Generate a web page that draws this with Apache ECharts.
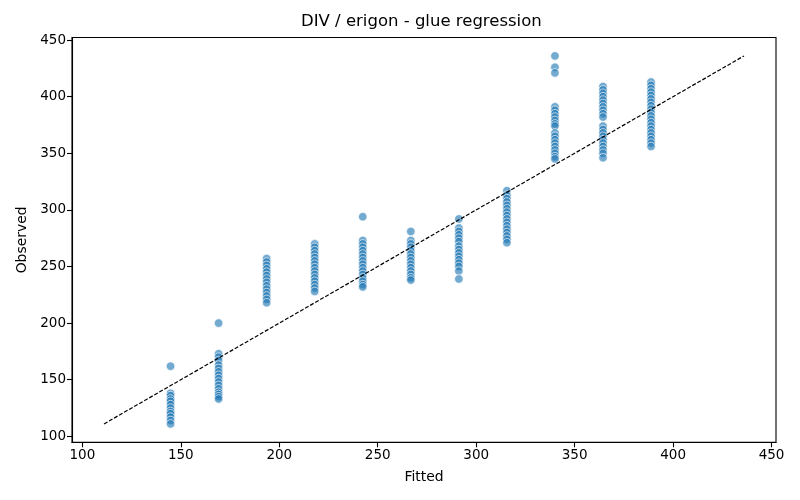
<!DOCTYPE html>
<html>
<head>
<meta charset="utf-8">
<script src="https://cdn.jsdelivr.net/npm/echarts@6/dist/echarts.min.js"></script>
<style>
html, body { margin: 0; padding: 0; background: #fff; }
#chart { width: 800px; height: 500px; }
</style>
</head>
<body>
<div id="chart"></div>
<script>
// fitted level of each column of points
var fittedLevels = [144.8, 169.2, 193.6, 218.0, 242.4, 266.8, 291.2, 315.6, 340.0, 364.4, 388.8];

var obs145 = [162, 138, 136, 133, 131, 128, 125, 122, 120, 117, 114, 111];
var obs169 = [200, 173, 170, 167, 163, 160, 157, 154, 151, 148, 145, 142, 139, 137, 135, 133];
var obs194 = [257, 254, 251, 248, 245, 242, 239, 236, 233, 230, 227, 224, 221, 218];
var obs218 = [270, 267, 264, 261, 258, 255, 252, 249, 246, 243, 240, 237, 234, 231, 228];
var obs242 = [294, 273, 270, 267, 264, 261, 258, 255, 252, 249, 246, 243, 240, 237, 234, 232];
var obs267 = [281, 273, 270, 267, 264, 261, 258, 255, 252, 249, 246, 243, 240, 238];
var obs291 = [292, 284, 281, 278, 275, 272, 268, 265, 262, 259, 256, 253, 250, 246, 239];
var obs315 = [317, 313, 310, 307, 304, 301, 298, 295, 292, 289, 286, 283, 280, 277, 274, 271];
var obs340 = [436, 426, 421, 391, 388, 385, 382, 379, 376, 374, 368, 365, 362, 359, 356, 353, 350, 347, 345];
var obs364 = [409, 406, 403, 400, 397, 394, 391, 388, 385, 382, 374, 371, 368, 365, 362, 359, 356, 353, 350, 346];
var obs388 = [413, 410, 407, 404, 401, 398, 395, 392, 389, 386, 383, 380, 377, 374, 371, 368, 365, 362, 359, 356];

// identity line end points
var lineMin = 111;
var lineMax = 436;

var tickValues = [100, 150, 200, 250, 300, 350, 400, 450];

var columns = [obs145, obs169, obs194, obs218, obs242, obs267, obs291, obs315, obs340, obs364, obs388];
var points = [];
for (var i = 0; i < columns.length; i++) {
	for (var j = 0; j < columns[i].length; j++) {
		points.push([fittedLevels[i], columns[i][j]]);
	}
}

var font = 'DejaVu Sans';
var axisCommon = {
	type: 'value',
	min: 94.75,
	max: 452.25,
	splitLine: { show: false },
	axisLine: { show: true, onZero: false, lineStyle: { color: '#000', width: 1.1 } },
	axisTick: { show: true, customValues: tickValues, length: 5, lineStyle: { color: '#000', width: 1.1 } },
	axisLabel: { customValues: tickValues, color: '#000', fontFamily: font, fontSize: 13.5, margin: 6 },
	nameLocation: 'middle',
	nameTextStyle: { color: '#000', fontFamily: font, fontSize: 13.9 }
};

var myChart = echarts.init(document.getElementById('chart'), null, { renderer: 'canvas' });
myChart.setOption({
	animation: false,
	backgroundColor: '#fff',
	title: {
		text: 'DIV / erigon - glue regression',
		left: 301,
		top: 13,
		padding: 0,
		textStyle: { color: '#000', fontFamily: font, fontSize: 16.5, fontWeight: 'normal' }
	},
	grid: {
		left: 72, right: 24, top: 37.5, bottom: 57.7,
		show: true, borderColor: '#000', borderWidth: 1.1, backgroundColor: 'transparent'
	},
	xAxis: Object.assign({}, axisCommon, { name: 'Fitted', nameGap: 28 }),
	yAxis: Object.assign({}, axisCommon, { name: 'Observed', nameGap: 43 }),
	series: [
		{
			type: 'scatter',
			data: points,
			symbolSize: 8.5,
			itemStyle: { color: 'rgba(31,119,180,0.78)', borderColor: '#fff', borderWidth: 0.8 },
			z: 2
		},
		{
			type: 'line',
			data: [[lineMin, lineMin], [lineMax, lineMax]],
			showSymbol: false,
			symbol: 'none',
			lineStyle: { color: '#000', width: 1.2, type: [4, 1.8] },
			z: 3
		}
	]
});
</script>
</body>
</html>
